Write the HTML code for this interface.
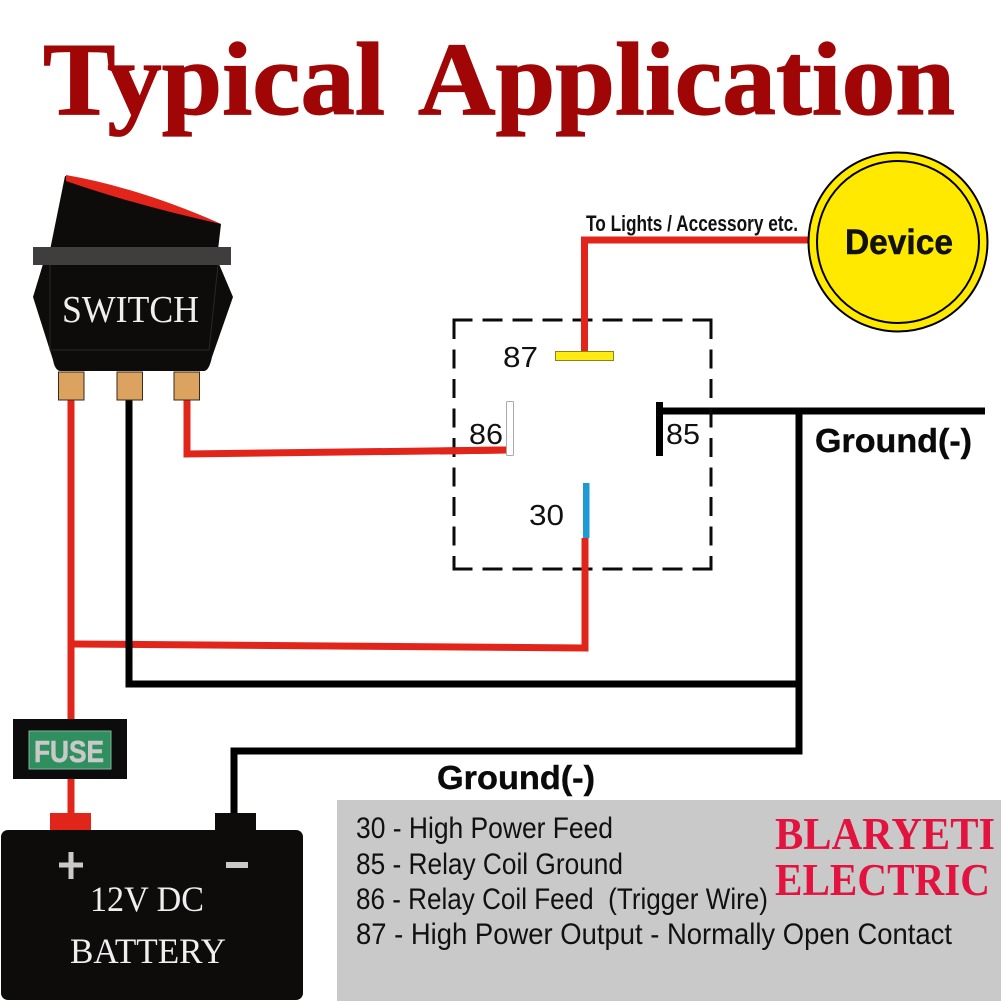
<!DOCTYPE html>
<html><head><meta charset="utf-8"><style>
html,body{margin:0;padding:0;background:#fff;width:1001px;height:1001px;overflow:hidden}
svg{display:block}
text{font-family:"Liberation Sans",sans-serif;white-space:pre}
.s{font-family:"Liberation Serif",serif}
</style></head><body>
<svg width="1001" height="1001" viewBox="0 0 1001 1001" xmlns="http://www.w3.org/2000/svg">
<rect width="1001" height="1001" fill="#fff"/>
<g class="s" font-size="104" font-weight="700" fill="#a00606" stroke="#a00606" stroke-width="1.200">
<text class="s" x="43" y="114" textLength="342" lengthAdjust="spacingAndGlyphs">Typical</text>
<text class="s" x="418" y="114" textLength="537" lengthAdjust="spacingAndGlyphs">Application</text>
</g>

<!-- wires -->
<g fill="none" stroke-linejoin="miter">
<path d="M71 398V815" stroke="#e1251b" stroke-width="7"/>
<path d="M74 644L585 648V538" stroke="#e1251b" stroke-width="7"/>
<path d="M187 398V454L506 450" stroke="#e1251b" stroke-width="7"/>
<path d="M584.500 352V240H812" stroke="#e1251b" stroke-width="7"/>
<path d="M129 398V684H799" stroke="#000" stroke-width="7"/>
<path d="M985 411H660M799 411V751H234V815" stroke="#000" stroke-width="7"/>
</g>

<!-- switch -->
<path d="M65 176Q140 188 221 224L218 250H50Z" fill="#0e0b0b"/>
<path d="M66 175Q140 188 221 224Q135 205 66 181Z" fill="#e1251b"/>
<path d="M43 264L33 297L53 360Q55 371 61 371H204Q209 371 212 357L233 297L219 264Z" fill="#0e0b0b"/>
<rect x="33" y="247" width="198" height="18" fill="#3f3d3e"/>
<path d="M50 265V350H209L218 265" fill="none" stroke="#2a2727" stroke-width="1"/>
<text class="s" x="62" y="322" font-size="38" fill="#efefef" textLength="137" lengthAdjust="spacingAndGlyphs">SWITCH</text>
<g fill="#dba35f" stroke="#3a2a1a" stroke-width="1">
<rect x="58.500" y="372" width="25.500" height="28"/>
<rect x="117" y="372" width="25.500" height="28"/>
<rect x="174" y="372" width="25.500" height="28"/>
</g>

<!-- relay -->
<g fill="none" stroke="#0a0a0a" stroke-width="3">
<path d="M452.500 320H712.500" stroke-dasharray="20 10"/>
<path d="M452.500 569H712.500" stroke-dasharray="20 10"/>
<path d="M454 320V569" stroke-dasharray="19 10.500"/>
<path d="M711 320V569" stroke-dasharray="19 10.500"/>
</g>
<path d="M584.500 318V352" stroke="#e1251b" stroke-width="7"/>
<path d="M585 538V575" stroke="#e1251b" stroke-width="7"/>
<rect x="555.500" y="351.500" width="58" height="9" fill="#ffeb12" stroke="#8a8420" stroke-width="1"/>
<rect x="506.500" y="401.500" width="7" height="54" rx="1" fill="#fff" stroke="#aaa" stroke-width="1"/>
<path d="M440 451L506 450" stroke="#e1251b" stroke-width="7"/>
<rect x="583" y="483" width="6.500" height="55" fill="#1d9ad6"/>
<rect x="656" y="402" width="7" height="54" fill="#000"/>
<g font-size="29" fill="#111">
<text x="503" y="367" textLength="35" lengthAdjust="spacingAndGlyphs">87</text>
<text x="469" y="444" textLength="34" lengthAdjust="spacingAndGlyphs">86</text>
<text x="666" y="444" textLength="34" lengthAdjust="spacingAndGlyphs">85</text>
<text x="529" y="525" textLength="35" lengthAdjust="spacingAndGlyphs">30</text>
</g>

<!-- device -->
<circle cx="898" cy="242" r="89.500" fill="#ffe900" stroke="#000" stroke-width="2"/>
<circle cx="898" cy="242" r="81" fill="none" stroke="#000" stroke-width="2"/>
<text x="845" y="254" font-size="35" font-weight="700" fill="#111" stroke="#111" stroke-width=".5" textLength="108" lengthAdjust="spacingAndGlyphs">Device</text>
<text x="586" y="231" font-size="22" font-weight="700" fill="#111" textLength="212" lengthAdjust="spacingAndGlyphs">To Lights / Accessory etc.</text>

<!-- ground labels -->
<text x="815" y="452" font-size="33" font-weight="700" fill="#0a0a0a" stroke="#0a0a0a" stroke-width=".4" textLength="157" lengthAdjust="spacingAndGlyphs">Ground(-)</text>
<text x="437" y="789" font-size="33" font-weight="700" fill="#0a0a0a" stroke="#0a0a0a" stroke-width=".4" textLength="158" lengthAdjust="spacingAndGlyphs">Ground(-)</text>

<!-- fuse -->
<rect x="13" y="719" width="114" height="60" fill="#0c0c0c"/>
<rect x="29" y="731" width="82" height="38" fill="#2f8f5f" stroke="#7fb39a" stroke-width="1"/>
<text x="34" y="762" font-size="31" font-weight="700" fill="#c9c9c9" stroke="#c9c9c9" stroke-width=".6" textLength="70" lengthAdjust="spacingAndGlyphs">FUSE</text>

<!-- battery -->
<rect x="50" y="813" width="41" height="18" fill="#e1251b"/>
<rect x="215" y="813" width="41" height="18" fill="#0e0b0b"/>
<rect x="1" y="830" width="302" height="170" rx="7" fill="#0e0b0b"/>
<path d="M59 865H83M71 852V879" stroke="#c9c9c9" stroke-width="5"/>
<path d="M226 865H248" stroke="#c9c9c9" stroke-width="6"/>
<text class="s" x="90" y="911" font-size="36" fill="#efefef" textLength="114" lengthAdjust="spacingAndGlyphs">12V DC</text>
<text class="s" x="70" y="963" font-size="36" fill="#efefef" textLength="156" lengthAdjust="spacingAndGlyphs">BATTERY</text>

<!-- legend panel -->
<rect x="337" y="800" width="664" height="201" fill="#c9c9c9"/>
<g font-size="30" fill="#111">
<text x="356" y="838" textLength="257" lengthAdjust="spacingAndGlyphs">30 - High Power Feed</text>
<text x="356" y="874" textLength="267" lengthAdjust="spacingAndGlyphs">85 - Relay Coil Ground</text>
<text x="356" y="909" textLength="412" lengthAdjust="spacingAndGlyphs">86 - Relay Coil Feed  (Trigger Wire)</text>
<text x="356" y="944" textLength="596" lengthAdjust="spacingAndGlyphs">87 - High Power Output - Normally Open Contact</text>
</g>
<text class="s" x="775" y="849" font-size="46" font-weight="700" fill="#e2133f" textLength="220" lengthAdjust="spacingAndGlyphs">BLARYETI</text>
<text class="s" x="775" y="895" font-size="46" font-weight="700" fill="#e2133f" textLength="215" lengthAdjust="spacingAndGlyphs">ELECTRIC</text>
</svg>
</body></html>
